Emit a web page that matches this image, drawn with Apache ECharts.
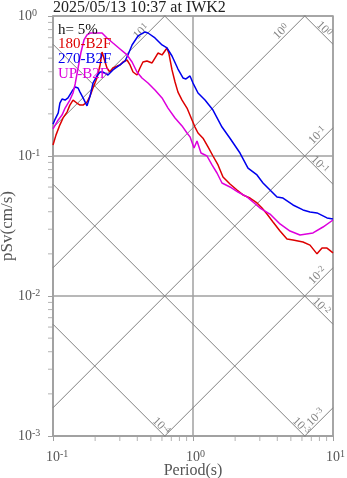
<!DOCTYPE html>
<html><head><meta charset="utf-8">
<script src="https://cdn.jsdelivr.net/npm/echarts@6/dist/echarts.min.js"></script>
<style>html,body{margin:0;padding:0;background:#fff}#c{width:347px;height:478px}</style>
</head><body><div id="c"></div>
<script>
// ---- texts ----
const chartTitle = '2025/05/13 10:37 at IWK2';
const dampingText = 'h= 5%';
const seriesNames = ['180-B2F', '270-B2F', 'UP-B2F'];
const seriesColors = ['#dd0000', '#0000ee', '#dd00dd'];
const xName = 'Period(s)';
const yName = 'pSv(cm/s)';

// ---- axis ticks ----
const xMin = 0.1, xMax = 10;
const yMin = 0.001, yMax = 1;
const xMinorTicks = [0.2,0.3,0.4,0.5,0.6,0.7,0.8,0.9,2,3,4,5,6,7,8,9];
const yMinorTicks = [0.002,0.003,0.004,0.005,0.006,0.007,0.008,0.009,0.02,0.03,0.04,0.05,0.06,0.07,0.08,0.09,0.2,0.3,0.4,0.5,0.6,0.7,0.8,0.9];

// ---- tripartite reference levels ----
const saLevels = [10, 1, 0.1, 0.01, 0.001];        // pseudo acceleration (cm/s^2)
const saLabelPeriods = [0.485, 4.85, 8.8, 8.8, 8.55];
const sdLevels = [1, 0.1, 0.01, 0.001, 0.0001];     // displacement (cm)
const sdLabelPeriods = [7.8, 7.25, 7.45, 5.35, 0.535];

// ---- spectra ----
const redT = [0.1,0.105,0.112,0.118,0.126,0.132,0.139,0.148,0.156,0.164,0.175,0.184,0.193,0.206,0.217,0.224,0.231,0.243,0.255,0.268,0.287,0.301,0.316,0.338,0.355,0.373,0.398,0.418,0.439,0.469,0.51,0.535,0.562,0.601,0.652,0.674,0.708,0.744,0.781,0.835,0.906,0.984,1.033,1.086,1.179,1.28,1.389,1.509,1.638,1.837,2.062,2.276,2.553,2.865,3.111,3.377,3.728,4.183,4.693,5.179,6.105,6.851,7.687,8.346,9.06,10];
const redSv = [0.120,0.141,0.167,0.187,0.206,0.231,0.251,0.239,0.231,0.231,0.243,0.268,0.306,0.361,0.447,0.553,0.562,0.425,0.398,0.425,0.439,0.447,0.469,0.485,0.447,0.398,0.379,0.425,0.469,0.477,0.462,0.501,0.544,0.527,0.591,0.535,0.412,0.338,0.286,0.251,0.220,0.181,0.161,0.146,0.134,0.116,0.100,0.0863,0.0708,0.0631,0.0572,0.0527,0.0501,0.0462,0.0425,0.0385,0.0338,0.0291,0.0255,0.0251,0.0243,0.0231,0.0200,0.0220,0.0220,0.0203];

const blueT = [0.1,0.103,0.109,0.112,0.116,0.122,0.128,0.137,0.144,0.151,0.156,0.164,0.175,0.184,0.193,0.206,0.217,0.228,0.247,0.268,0.301,0.327,0.343,0.367,0.405,0.454,0.477,0.535,0.601,0.652,0.708,0.781,0.848,0.891,0.952,1.0,1.086,1.218,1.389,1.611,1.837,2.166,2.471,2.865,3.162,3.548,3.981,4.394,5.179,6.105,6.851,7.687,9.06,10];
const blueSv = [0.169,0.181,0.203,0.239,0.255,0.251,0.260,0.291,0.311,0.306,0.286,0.260,0.228,0.268,0.332,0.373,0.398,0.398,0.379,0.412,0.447,0.477,0.527,0.621,0.720,0.769,0.756,0.697,0.621,0.591,0.518,0.418,0.361,0.355,0.373,0.332,0.282,0.251,0.213,0.161,0.134,0.105,0.082,0.0732,0.0641,0.0572,0.0510,0.0501,0.0447,0.0412,0.0398,0.0392,0.0361,0.0355];

const upT = [0.1,0.109,0.116,0.122,0.132,0.139,0.144,0.151,0.158,0.1665,0.175,0.184,0.206,0.224,0.243,0.268,0.301,0.338,0.367,0.398,0.432,0.477,0.535,0.601,0.663,0.744,0.835,0.906,0.952,1.017,1.068,1.141,1.259,1.367,1.484,1.611,1.837,2.096,2.43,2.683,3.011,3.548,4.183,4.931,5.81,7.197,8.483,10];
const upSv = [0.156,0.181,0.196,0.220,0.251,0.282,0.327,0.425,0.544,0.674,0.732,0.756,0.756,0.756,0.697,0.641,0.581,0.527,0.469,0.398,0.361,0.332,0.296,0.260,0.220,0.187,0.164,0.146,0.137,0.114,0.128,0.105,0.100,0.0863,0.0756,0.0641,0.0601,0.0553,0.0510,0.0469,0.0425,0.0385,0.0327,0.0291,0.0273,0.0282,0.0311,0.0349];

// ---- build ----
const FONT = '"Liberation Serif", "Times New Roman", serif';
const GRID_C = '#a0a0a0';
const DIAG_C = '#808080';
const TWO_PI = 2 * Math.PI;

function expOf(v) { return Math.round(Math.log10(v)); }
function pow10Text(v) { return '{b|10}{s|' + expOf(v) + '}'; }
// x labels: "10" centred on the tick, exponent sticking out to the right
function pow10TextX(v) {
  const e = expOf(v);
  return (e < 0 ? '{pn| }' : '{pp| }') + '{b|10}{s|' + e + '}';
}
const axisRich = {
  b: { fontFamily: FONT, fontSize: 14, color: '#555', lineHeight: 16 },
  s: { fontFamily: FONT, fontSize: 10, color: '#555', verticalAlign: 'top', lineHeight: 10 },
  pn: { width: 8.3, fontSize: 10 },
  pp: { width: 5, fontSize: 10 }
};
const diagRich = {
  b: { fontFamily: FONT, fontSize: 12, color: '#666', lineHeight: 13 },
  s: { fontFamily: FONT, fontSize: 9, color: '#666', verticalAlign: 'top', lineHeight: 9 }
};

const series = [];
saLevels.forEach(sa => {
  series.push({ type: 'line', silent: true, symbol: 'none', z: 1,
    lineStyle: { color: DIAG_C, width: 1 },
    data: [[xMin, sa * xMin / TWO_PI], [xMax, sa * xMax / TWO_PI]] });
});
sdLevels.forEach(sd => {
  series.push({ type: 'line', silent: true, symbol: 'none', z: 1,
    lineStyle: { color: DIAG_C, width: 1 },
    data: [[xMin, TWO_PI * sd / xMin], [xMax, TWO_PI * sd / xMax]] });
});
series.push({ type: 'scatter', silent: true, symbolSize: 0.1, z: 3,
  itemStyle: { color: 'rgba(0,0,0,0)' },
  data: saLevels.map((sa, i) => ({ value: [saLabelPeriods[i], sa * saLabelPeriods[i] / TWO_PI], lv: sa })),
  label: { show: true, position: 'inside', rotate: 45, offset: [-5.5, -5.5],
    formatter: p => pow10Text(p.data.lv), rich: diagRich }
});
series.push({ type: 'scatter', silent: true, symbolSize: 0.1, z: 3,
  itemStyle: { color: 'rgba(0,0,0,0)' },
  data: sdLevels.map((sd, i) => ({ value: [sdLabelPeriods[i], TWO_PI * sd / sdLabelPeriods[i]], lv: sd })),
  label: { show: true, position: 'inside', rotate: -45, offset: [4.3, -4.3],
    formatter: p => pow10Text(p.data.lv), rich: diagRich }
});
series.push({ type: 'scatter', silent: true, clip: false, symbol: 'rect', symbolSize: [1, 5], symbolOffset: [0, 2.5],
  itemStyle: { color: GRID_C }, data: xMinorTicks.map(v => [v, yMin]) });
series.push({ type: 'scatter', silent: true, clip: false, symbol: 'rect', symbolSize: [5, 1], symbolOffset: [-2.5, 0],
  itemStyle: { color: GRID_C }, data: yMinorTicks.map(v => [xMin, v]) });
const specT = [redT, blueT, upT];
const specSv = [redSv, blueSv, upSv];
seriesNames.forEach((n, k) => {
  series.push({ name: n, type: 'line', symbol: 'none', z: 5, silent: true,
    lineStyle: { color: seriesColors[k], width: 1.5 },
    data: specT[k].map((t, i) => [t, specSv[k][i]]) });
});

const graphic = [
  { type: 'text', left: 53, top: 0, style: { text: chartTitle, font: '16px ' + FONT, fill: '#222' } },
  { type: 'text', left: 58, top: 23, z: 10, style: { text: dampingText, font: '15px ' + FONT, fill: '#111' } }
];
seriesNames.forEach((n, k) => {
  graphic.push({ type: 'text', left: 58, top: 37 + k * 15, z: 10,
    style: { text: n, font: '15px ' + FONT, fill: seriesColors[k] } });
});

const chart = echarts.init(document.getElementById('c'), null, { renderer: 'canvas' });
chart.setOption({
  animation: false,
  backgroundColor: '#fff',
  grid: { left: 53, top: 16, right: 14, bottom: 42, outerBoundsMode: 'none', containLabel: false,
    show: true, borderColor: GRID_C, borderWidth: 1.5, backgroundColor: 'transparent' },
  xAxis: {
    type: 'log', logBase: 10, min: xMin, max: xMax,
    name: xName, nameLocation: 'middle', nameGap: 27, nameMoveOverlap: false,
    nameTextStyle: { fontFamily: FONT, fontSize: 16, color: '#555' },
    axisLine: { show: true, lineStyle: { color: GRID_C, width: 1.5 } },
    axisTick: { show: true, length: 5, lineStyle: { color: GRID_C } },
    splitLine: { show: true, lineStyle: { color: GRID_C, width: 1.5 } },
    axisLabel: { margin: 13, formatter: pow10TextX, rich: axisRich }
  },
  yAxis: {
    type: 'log', logBase: 10, min: yMin, max: yMax,
    name: yName, nameLocation: 'middle', nameGap: 37, nameMoveOverlap: false,
    nameTextStyle: { fontFamily: FONT, fontSize: 17, color: '#555' },
    axisLine: { show: true, lineStyle: { color: GRID_C, width: 1.5 } },
    axisTick: { show: true, length: 5, lineStyle: { color: GRID_C } },
    splitLine: { show: true, lineStyle: { color: GRID_C, width: 1.5 } },
    axisLabel: { margin: 35, align: 'left', formatter: pow10Text, rich: axisRich }
  },
  graphic: graphic,
  series: series
});
</script>
</body></html>
